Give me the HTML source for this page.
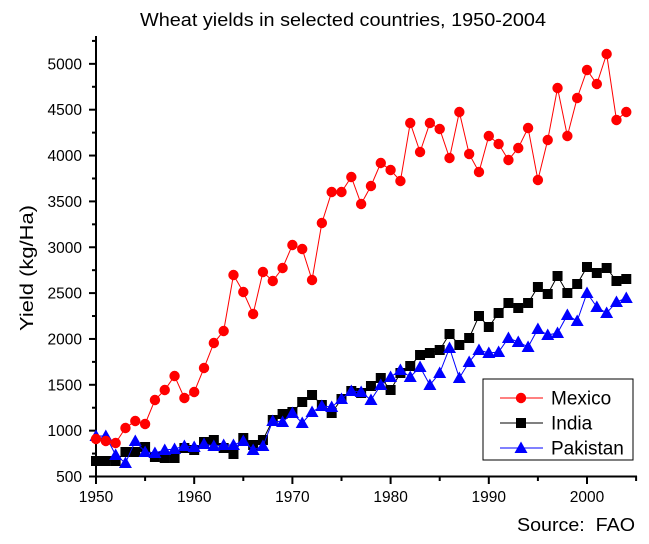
<!DOCTYPE html>
<html><head><style>
body{margin:0;background:#fff;}
svg{display:block;font-family:"Liberation Sans",Arial,sans-serif;}
</style></head><body>
<svg id="s" width="649" height="544" xmlns="http://www.w3.org/2000/svg">
<text x="343" y="26" font-size="18" text-anchor="middle" textLength="406" lengthAdjust="spacingAndGlyphs">Wheat yields in selected countries, 1950-2004</text>
<text transform="translate(33,268) rotate(-90)" font-size="18" text-anchor="middle" textLength="126" lengthAdjust="spacingAndGlyphs">Yield (kg/Ha)</text>
<text x="517" y="531" font-size="18" textLength="118" lengthAdjust="spacingAndGlyphs">Source:&#160;&#160;FAO</text>
<g id="axes" stroke="#000" stroke-width="2"></g>
<g id="lbl" font-size="15.5"></g>
<g id="ser"></g>
<rect x="483" y="379" width="150" height="81" fill="#fff" stroke="#000" stroke-width="1"/>
<g id="leg" font-size="19"></g>
</svg>
<script>
const ns="http://www.w3.org/2000/svg";
function el(p,t,a,txt){const e=document.createElementNS(ns,t);for(const k in a)e.setAttribute(k,a[k]);if(txt!=null)e.textContent=txt;document.getElementById(p).appendChild(e);return e;}
const X=y=>96+(y-1950)*9.82, Y=v=>476.5-(v-500)*0.0917;
el('axes','line',{x1:96,y1:36,x2:96,y2:477.5});
el('axes','line',{x1:95,y1:476.5,x2:637,y2:476.5});
for(let v=500;v<=5250;v+=250){const y=Y(v);const maj=v%500==0;el('axes','line',{x1:maj?89:92,y1:y,x2:96,y2:y});if(maj)el('lbl','text',{x:82,y:y+5.5,'text-anchor':'end'},v);}
for(let yr=1950;yr<=2005;yr+=5){const x=X(yr);const maj=yr%10==0;el('axes','line',{x1:x,y1:476,x2:x,y2:maj?484:481});if(maj)el('lbl','text',{x:x,y:502,'text-anchor':'middle'},yr);}
const mex=[439,441,443,428,421,424,400,390,376,398,392,368,343,331,275,292,314,272,281,268,245,249,280,223,192,192,177,204,186,163,170,181,123,152,123,129,158,112,154,172,136,144,160,148,128,180,140,88,136,98,70,84,54,120,112];
const ind=[461,461,461,452,452,447,457,458,458,448,450,442,440,448,454,438,445,440,420,414,412,402,395,405,413,399,391,393,386,378,390,373,366,355,353,350,334,345,338,316,327,313,303,308,303,287,294,276,293,284,267,273,268,281,279];
const pak=[436,436,455,463,441,452,453,450,449,446,447,444,446,445,445,441,450,446,421,422,413,423,412,406,407,399,391,392,400,385,377,370,377,367,385,373,348,378,362,350,353,352,338,342,347,329,335,333,315,321,293,307,313,302,298];
function mk(p,type,x,y,c){if(type=='c')el(p,'circle',{cx:x,cy:y,r:5.2,fill:c});else if(type=='s')el(p,'rect',{x:x-5,y:y-5,width:10,height:10,fill:c});else el(p,'polygon',{points:`${x},${y-6.5} ${x-6.5},${y+5} ${x+6.5},${y+5}`,fill:c});}
function series(d,c,type){el('ser','polyline',{points:d.map((v,i)=>X(1950+i)+','+v).join(' '),fill:'none',stroke:c,'stroke-width':1});d.forEach((v,i)=>mk('ser',type,X(1950+i),v,c));}
series(ind,'#000','s');series(pak,'#0000ff','t');series(mex,'#ff0000','c');
[['Mexico','#ff0000','c',398],['India','#000','s',423],['Pakistan','#0000ff','t',448]].forEach(([n,c,t,y])=>{el('leg','line',{x1:500,y1:y,x2:543,y2:y,stroke:c,'stroke-width':1});mk('leg',t,521,y,c);el('leg','text',{x:551,y:y+6.5},n);});
</script>
</body></html>
